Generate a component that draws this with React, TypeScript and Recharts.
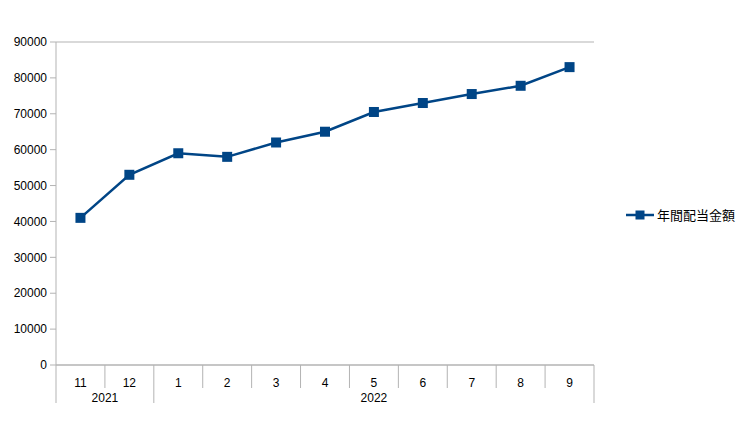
import React from 'react';
import { LineChart, Line, XAxis, YAxis, CartesianGrid, Legend } from 'recharts';

const months = ['11', '12', '1', '2', '3', '4', '5', '6', '7', '8', '9'];
const years = ['2021', '2021', '2022', '2022', '2022', '2022', '2022', '2022', '2022', '2022', '2022'];
const values = [41000, 53000, 59000, 58000, 62000, 65000, 70500, 73000, 75500, 77800, 83000];
const yTicks = [0, 10000, 20000, 30000, 40000, 50000, 60000, 70000, 80000, 90000];
const seriesName = '年間配当金額';

const data = months.map((m, i) => ({ key: `${years[i]}-${m}`, month: m, year: years[i], value: values[i] }));

const W = 737;
const H = 419;
const MARGIN = { top: 34, right: 151, bottom: 24, left: 0 };
const Y_WIDTH = 48;
const PLOT_W = W - MARGIN.left - MARGIN.right - Y_WIDTH;
const BAND = PLOT_W / months.length;
const HALF = BAND / 2;
const GRID = '#b3b3b3';
const COLOR = '#004586';
const FONT = '"Liberation Sans", Arial, sans-serif';

const MonthTick = (props: any) => {
  const { x, y, index } = props;
  const i = index as number;
  const groupStart = i === 0 || years[i] !== years[i - 1];
  const isLast = i === months.length - 1;
  let count = 0;
  if (groupStart) {
    let j = i;
    while (j < years.length && years[j] === years[i]) { count++; j++; }
  }
  return (
    <g>
      <line x1={x - HALF} x2={x - HALF} y1={y} y2={y + (groupStart ? 38 : 23)} stroke={GRID} strokeWidth={1} />
      {isLast && <line x1={x + HALF} x2={x + HALF} y1={y} y2={y + 38} stroke={GRID} strokeWidth={1} />}
      <text x={x} y={y + 22} textAnchor="middle" fontSize={12} fill="#000" fontFamily={FONT}>{months[i]}</text>
      {groupStart && (
        <text x={x - HALF + (count * BAND) / 2} y={y + 37} textAnchor="middle" fontSize={12} fill="#000" fontFamily={FONT}>
          {years[i]}
        </text>
      )}
    </g>
  );
};

const SquareDot = (props: any) => {
  const { cx, cy } = props;
  if (cx == null || cy == null) return null;
  return <rect x={cx - 5} y={cy - 5} width={10} height={10} fill={COLOR} />;
};

const LegendContent = () => (
  <div style={{ display: 'flex', alignItems: 'center', fontFamily: '"Noto Sans CJK JP", sans-serif', fontSize: 13, color: '#000' }}>
    <svg width={30} height={12} style={{ marginRight: 1 }}>
      <line x1={0} x2={28} y1={6} y2={6} stroke={COLOR} strokeWidth={2.5} />
      <rect x={9.5} y={1.5} width={9} height={9} fill={COLOR} />
    </svg>
    <span>{seriesName}</span>
  </div>
);

export default function App() {
  return (
    <div style={{ width: W, height: H }}>
      <LineChart width={W} height={H} data={data} margin={MARGIN}>
        <CartesianGrid vertical={false} stroke={GRID} strokeWidth={1} />
        <XAxis
          dataKey="key"
          interval={0}
          padding={{ left: HALF, right: HALF }}
          axisLine={{ stroke: GRID }}
          tickLine={false}
          tickSize={0}
          tickMargin={0}
          height={38}
          tick={<MonthTick />}
        />
        <YAxis
          yAxisId="left"
          width={Y_WIDTH}
          domain={[0, 90000]}
          ticks={yTicks}
          interval={0}
          axisLine={{ stroke: GRID }}
          tickLine={{ stroke: GRID }}
          tickSize={6}
          tickMargin={3}
          tick={{ fontSize: 12, fill: '#000', fontFamily: FONT }}
        />
        <YAxis
          yAxisId="right"
          orientation="right"
          width={0}
          domain={[0, 90000]}
          tick={false}
          tickLine={false}
          axisLine={{ stroke: GRID }}
        />
        <Legend
          layout="horizontal"
          align="center"
          verticalAlign="middle"
          content={<LegendContent />}
          wrapperStyle={{ left: 618, top: 197, width: 125 }}
        />
        <Line
          yAxisId="left"
          type="linear"
          dataKey="value"
          name={seriesName}
          stroke={COLOR}
          strokeWidth={2.5}
          dot={<SquareDot />}
          activeDot={false}
          isAnimationActive={false}
        />
      </LineChart>
    </div>
  );
}
